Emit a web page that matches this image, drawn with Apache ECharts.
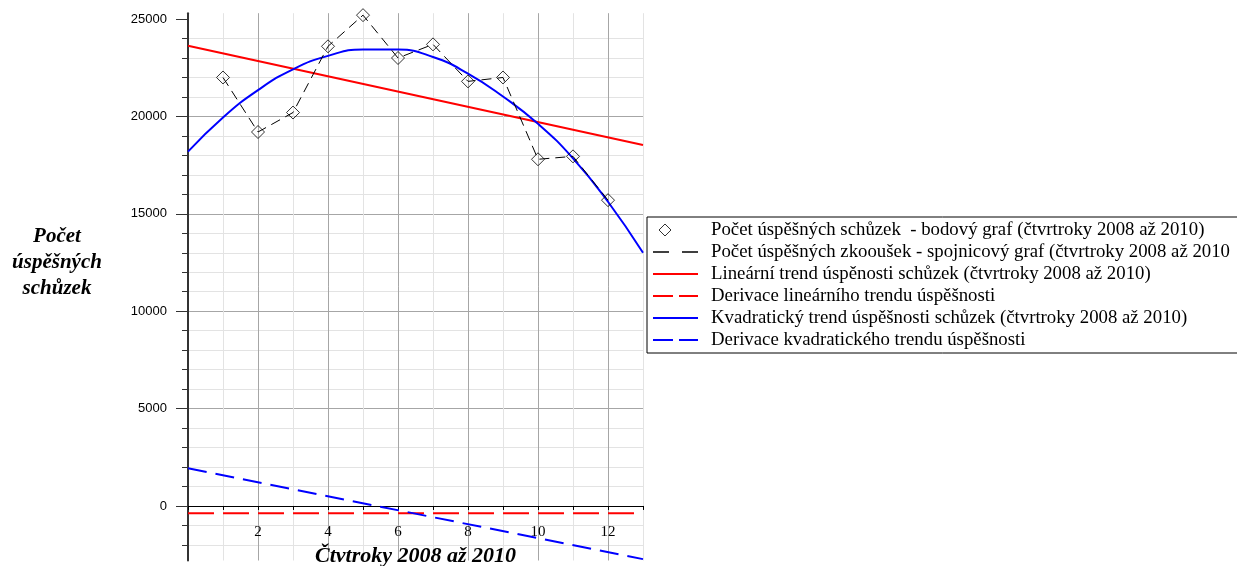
<!DOCTYPE html>
<html>
<head>
<meta charset="utf-8">
<script src="https://cdn.jsdelivr.net/npm/echarts@6.0.0/dist/echarts.min.js"></script>
<style>
  html, body { margin: 0; padding: 0; background: #ffffff; }
  #chart { width: 1237px; height: 566px; }
</style>
</head>
<body>
<div id="chart"></div>
<script>
// Successful meetings per quarter, 2008–2010
const quarters = [1, 2, 3, 4, 5, 6, 7, 8, 9, 10, 11, 12];
const meetings = [22000, 19200, 20200, 23600, 25200, 23000, 23700, 21800, 22000, 17800, 17950, 15700];

// Linear trend and its derivative, given at both ends of the x range
const lineEndsX = [0, 13];
const linearTrend = [23630, 18530];
const linearDerivative = [-375, -375];

// Quadratic trend sampled at whole quarters, and its (linear) derivative
const quadX = [0, 1, 2, 3, 4, 5, 6, 7, 8, 9, 10, 11, 12, 13];
const quadTrend = [18190, 19950, 21350, 22420, 23110, 23440, 23430, 23050, 22200, 21020, 19620, 17850, 15620, 13000];
const quadDerivative = [1935, -2730];

// Axis ranges and labelled y values
const xRange = [0, 13];
const yRange = [-2800, 25300];
const yMajorValues = [0, 5000, 10000, 15000, 20000, 25000];

const seriesNames = [
  'Počet úspěšných schůzek  - bodový graf (čtvrtroky 2008 až 2010)',
  'Počet úspěšných zkooušek - spojnicový graf (čtvrtroky 2008 až 2010',
  'Lineární trend úspěnosti schůzek (čtvrtroky 2008 až 2010)',
  'Derivace lineárního trendu úspěšnosti',
  'Kvadratický trend úspěšnosti schůzek (čtvrtroky 2008 až 2010)',
  'Derivace kvadratického trendu úspěšnosti'
];

const xTitle = 'Čtvtroky 2008 až 2010';
const yTitle = 'Počet\núspěšných\nschůzek';

const zip = (xs, ys) => xs.map((x, i) => [x, ys[i]]);

const serif = 'Liberation Serif, Times New Roman, serif';
const titleFont = { fontFamily: serif, fontSize: 22, fontWeight: 'bold', fontStyle: 'italic', color: '#000' };

// Plot box in pixels
const gridBox = { left: 188, right: 594, top: 13.2, bottom: 5.5 };
const plotHeight = 566 - gridBox.top - gridBox.bottom;
// The horizontal axis sits on y = 0: shift it up from the bottom of the grid
const zeroOffset = -((0 - yRange[0]) / (yRange[1] - yRange[0])) * plotHeight;

// Legend entries: a small hollow diamond for the scatter, plain or dashed lines for the rest
const legendLineStyles = [
  null,
  { color: '#000000', width: 1.4, type: [16, 13], opacity: 1 },
  { width: 2, type: 'solid' },
  { width: 2, type: [20, 6] },
  { width: 2, type: 'solid' },
  { width: 2, type: [20, 6] }
];
const legendData = seriesNames.map((name, i) => i === 0
  ? {
      name: name,
      icon: 'path://M0,0M45,14M12,1L18,7L12,13L6,7Z',
      itemStyle: { color: '#ffffff', borderColor: '#000000', borderWidth: 1 }
    }
  : { name: name, itemStyle: { opacity: 0 }, lineStyle: legendLineStyles[i] });

const chart = echarts.init(document.getElementById('chart'), null, { renderer: 'canvas' });

chart.setOption({
  animation: false,
  backgroundColor: '#ffffff',
  grid: Object.assign({ containLabel: false, outerBoundsMode: 'none' }, gridBox),
  graphic: [{
    type: 'text',
    x: 57,
    y: 224,
    style: {
      text: yTitle, align: 'center', verticalAlign: 'top', lineHeight: 26,
      fontFamily: serif, fontSize: 21, fontWeight: 'bold', fontStyle: 'italic', fill: '#000'
    }
  }],
  legend: {
    orient: 'vertical',
    left: 647,
    top: 217,
    padding: [2.5, 20, 2.5, 5],
    itemGap: 1,
    itemWidth: 45,
    itemHeight: 14,
    symbolKeepAspect: true,
    selectedMode: false,
    backgroundColor: '#ffffff',
    borderColor: '#000000',
    borderWidth: 1,
    borderRadius: 0,
    textStyle: { fontFamily: serif, fontSize: 18.8, color: '#000', lineHeight: 21, padding: [0, 0, 0, 8] },
    data: legendData
  },
  xAxis: {
    type: 'value',
    min: xRange[0],
    max: xRange[1],
    interval: 2,
    offset: zeroOffset,
    name: xTitle,
    nameLocation: 'middle',
    nameGap: 36,
    nameTextStyle: titleFont,
    axisLine: { show: true, onZero: false, lineStyle: { color: '#000', width: 1 } },
    axisTick: { show: true, length: 4, lineStyle: { color: '#000' } },
    minorTick: { show: true, splitNumber: 2, length: 4, lineStyle: { color: '#000' } },
    axisLabel: {
      showMinLabel: false, showMaxLabel: false, margin: 19,
      fontFamily: serif, fontSize: 15, color: '#000'
    },
    splitLine: {
      show: true,
      lineStyle: { color: ['#a6a6a6', '#a6a6a6', '#a6a6a6', '#a6a6a6', '#a6a6a6', '#a6a6a6', '#a6a6a6', '#e3e3e3'], width: 1 }
    },
    minorSplitLine: { show: true, lineStyle: { color: '#e3e3e3', width: 1 } }
  },
  yAxis: {
    type: 'value',
    min: yRange[0],
    max: yRange[1],
    splitNumber: 5,
    minInterval: 5000,
    maxInterval: 5000,
    axisLine: { show: true, onZero: false, lineStyle: { color: '#333', width: 2 } },
    axisTick: { show: true, length: 12, customValues: yMajorValues, lineStyle: { color: '#333' } },
    minorTick: { show: true, splitNumber: 5, length: 6, lineStyle: { color: '#333' } },
    axisLabel: {
      customValues: yMajorValues, margin: 21,
      formatter: (v) => String(v),
      fontFamily: 'Liberation Sans, Arial, sans-serif', fontSize: 13, color: '#000'
    },
    splitLine: { show: true, showMinLine: false, showMaxLine: false, lineStyle: { color: '#a6a6a6', width: 1 } },
    minorSplitLine: { show: true, lineStyle: { color: '#e3e3e3', width: 1 } }
  },
  series: [
    {
      name: seriesNames[0],
      type: 'scatter',
      data: zip(quarters, meetings),
      symbol: 'diamond',
      symbolSize: 13,
      itemStyle: { color: 'rgba(255,255,255,0)', borderColor: '#000', borderWidth: 1 },
      z: 5
    },
    {
      name: seriesNames[1],
      type: 'line',
      data: zip(quarters, meetings),
      symbol: 'none',
      itemStyle: { color: '#000' },
      lineStyle: { color: '#000', width: 1, type: [10, 6] },
      z: 4
    },
    {
      name: seriesNames[2],
      type: 'line',
      data: zip(lineEndsX, linearTrend),
      symbol: 'none',
      itemStyle: { color: '#ff0000' },
      lineStyle: { color: '#ff0000', width: 2 },
      z: 2
    },
    {
      name: seriesNames[3],
      type: 'line',
      data: zip(lineEndsX, linearDerivative),
      symbol: 'none',
      itemStyle: { color: '#ff0000' },
      lineStyle: { color: '#ff0000', width: 2, type: [26, 9] },
      z: 2
    },
    {
      name: seriesNames[4],
      type: 'line',
      data: zip(quadX, quadTrend),
      smooth: 0.5,
      symbol: 'none',
      itemStyle: { color: '#0000ff' },
      lineStyle: { color: '#0000ff', width: 2 },
      z: 3
    },
    {
      name: seriesNames[5],
      type: 'line',
      data: zip(lineEndsX, quadDerivative),
      symbol: 'none',
      itemStyle: { color: '#0000ff' },
      lineStyle: { color: '#0000ff', width: 2, type: [19, 9] },
      z: 3
    }
  ]
});
</script>
</body>
</html>
